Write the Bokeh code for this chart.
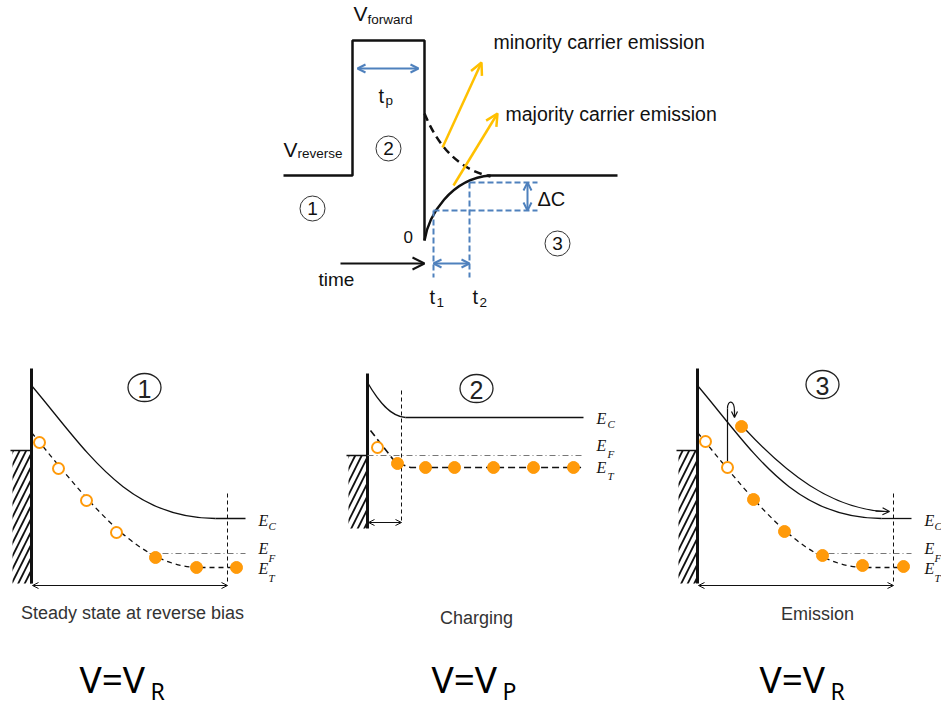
from bokeh.plotting import figure
from bokeh.models import Range1d, Arrow, OpenHead
from bokeh.core.properties import value
from bokeh.embed import file_html
from bokeh.resources import INLINE

W, H = 941, 706

BLUE = "#4F81BD"
GOLD = "#FFC000"
ORANGE = "#FF9A0A"
INK = "#111111"

# ---------------- DLTS timing sketch (canvas units, y grows downward) ----------------
pulse_x = [283, 352, 352, 424, 424]
pulse_y = [175, 175, 40, 40, 240]
settled_x = [487, 617]
settled_y = [175, 175]
# cubic Bezier control polygons: start, control 0, control 1, end
recovery = [(424, 240), (428, 215), (450, 178), (490, 175)]
overshoot = [(424, 113), (436, 142), (455, 168), (490, 176)]

# blue construction lines for the rate window
guide_xs = [[433, 537], [469, 537], [433, 433], [469, 469]]
guide_ys = [[210, 210], [182, 182], [210, 277], [182, 277]]

# double arrows: (x0, y0, x1, y1)
blue_spans = [(357, 68, 418, 68), (433, 263, 469, 263), (527, 182, 527, 210)]
emission_arrows = [(442, 147, 481, 62), (453, 185, 497, 113)]
time_arrow = (340, 263, 424, 263)

# circled step numbers of the timing sketch
step_x = [312, 388, 557]
step_y = [208, 148, 243]
step_labels = ["1", "2", "3"]

# ---------------- band diagrams ----------------
axis_x = [31, 367, 697]
axis_top = [368, 373, 368]
axis_bottom = [583, 528, 583]
metal_top = [450, 455, 450]

# bent-band panels (1 and 3) share the same band shapes, given relative to the interface
ec_bent = [(0, 385), (55, 450), (95, 518), (184, 518)]
et_bent = [(0, 432), (64, 510), (109, 567), (169, 567)]
band_end = 214
ec_flat_y = 518
et_flat_y = 567
ef_y = 553
ef_start = 118
depletion_edge = 196

# trap occupancy: open = empty trap, filled = occupied trap
p1_open_x = [39, 58, 86, 116]
p1_open_y = [442, 468, 500, 532]
p1_fill_x = [155, 196, 236]
p1_fill_y = [557, 567, 567]

p2_open_x = [377]
p2_open_y = [447]
p2_fill_x = [397, 425, 454, 493, 533, 573]
p2_fill_y = [463, 467, 467, 467, 467, 467]

p3_open_x = [705, 727]
p3_open_y = [441, 467]
p3_fill_x = [741, 753, 784, 822, 862, 903]
p3_fill_y = [426, 499, 531, 555, 565, 566]

# charging panel (flat bands)
p2_ec = [(367, 382), (378, 401), (390, 416), (405, 417)]
p2_ec_flat_y = 417
p2_ef_y = 455
p2_et_x = [370, 395, 410, 583]
p2_et_y = [430, 462, 467, 467]
p2_end = 583
p2_edge = 401

panel_titles = ["Steady state at reverse bias", "Charging", "Emission"]
title_x = [132, 476, 817]
title_y = [612, 617, 613]
circle_x = [144, 476, 822]
circle_y = [387, 388, 384]
bias_main = ["V=V", "V=V", "V=V"]
bias_sub = ["R", "P", "R"]
bias_x = [79, 431, 759]
bias_sub_x = [150, 502, 830]

p = figure(width=W, height=H, x_range=Range1d(0, W), y_range=Range1d(H, 0),
           output_backend="svg", toolbar_location=None, min_border=0,
           x_axis_location=None, y_axis_location=None)
p.grid.visible = False
p.outline_line_color = None
p.background_fill_color = "white"


def bez(pts, dx=0, **kw):
    (a, b), (c, d), (e, f), (g, h) = pts
    p.bezier(x0=[a + dx], y0=[b], cx0=[c + dx], cy0=[d], cx1=[e + dx], cy1=[f],
             x1=[g + dx], y1=[h], **kw)


def arrow(x0, y0, x1, y1, color, width, size, both=False):
    head = dict(size=size, line_color=color, line_width=width)
    p.add_layout(Arrow(x_start=x0, y_start=y0, x_end=x1, y_end=y1,
                       line_color=color, line_width=width,
                       end=OpenHead(**head),
                       start=OpenHead(**head) if both else None))


def label(x, y, txt, size, font="Liberation Sans", style="normal", align="left",
          color=INK):
    # y is the visual middle of the text
    p.text(x=[x], y=[y], text=[txt], text_font=value(font), text_font_size=f"{size}px",
           text_font_style=style, text_align=align, text_baseline="middle", text_color=color)


# ---- timing sketch ----
p.line(pulse_x, pulse_y, line_color=INK, line_width=2.5)
p.line(settled_x, settled_y, line_color=INK, line_width=2.5)
bez(recovery, line_color=INK, line_width=2.5)
bez(overshoot, line_color=INK, line_width=2.5, line_dash="8 5")
p.multi_line(guide_xs, guide_ys, line_color=BLUE, line_width=2, line_dash="6 3")
for x0, y0, x1, y1 in blue_spans:
    arrow(x0, y0, x1, y1, BLUE, 2, 8, both=True)
for x0, y0, x1, y1 in emission_arrows:
    arrow(x0, y0, x1, y1, GOLD, 2.5, 12)
arrow(*time_arrow, INK, 2, 12)

p.ellipse(x=step_x, y=step_y, width=25, height=25, fill_color=None,
          line_color="#333333", line_width=1)
p.text(x=step_x, y=step_y, text=step_labels, text_font=value("Liberation Sans"),
       text_font_size="19px", text_align="center", text_baseline="middle", text_color=INK)

label(353, 13, "V", 21)
label(367, 19, "forward", 13.5)
label(283, 149, "V", 21)
label(297, 153, "reverse", 13.5)
label(378, 95, "t", 20)
label(385, 100, "p", 13.5)
label(403, 236, "0", 17)
label(318, 279, "time", 19)
label(429, 296, "t", 20)
label(436, 302, "1", 13.5)
label(472, 296, "t", 20)
label(479, 302, "2", 13.5)
label(537, 198, "\u0394C", 20)
label(493, 41, "minority carrier emission", 19.5)
label(505, 113, "majority carrier emission", 19.5)

# ---- band diagrams ----
for i in range(3):
    ax = axis_x[i]
    # metal contact
    p.quad(left=[ax - 19], right=[ax], top=[metal_top[i]], bottom=[axis_bottom[i]],
           fill_color=None, line_color=None, hatch_pattern="/", hatch_color=INK,
           hatch_scale=13, hatch_weight=1.8)
    p.line([ax - 21, ax], [metal_top[i], metal_top[i]], line_color=INK, line_width=1.5)
    p.line([ax, ax], [axis_top[i], axis_bottom[i]], line_color=INK, line_width=3)
    p.ellipse(x=[circle_x[i]], y=[circle_y[i]], width=33, height=28, fill_color=None,
              line_color="#222222", line_width=1.3)
    p.text(x=[circle_x[i]], y=[circle_y[i] + 1], text=[str(i + 1)],
           text_font=value("Liberation Sans"), text_font_size="25px",
           text_align="center", text_baseline="middle", text_color="#222222")
    label(title_x[i], title_y[i], panel_titles[i], 18, align="center", color="#333333")
    label(bias_x[i], 678, bias_main[i], 37, font="Noto Sans", color="#000000")
    label(bias_sub_x[i], 690, bias_sub[i], 23, font="Noto Sans", color="#000000")

for ax in (axis_x[0], axis_x[2]):
    bez(ec_bent, dx=ax, line_color=INK, line_width=1.3)
    p.line([ax + ec_bent[-1][0], ax + band_end], [ec_flat_y, ec_flat_y],
           line_color=INK, line_width=1.3)
    bez(et_bent, dx=ax, line_color=INK, line_width=1.3, line_dash="5 4")
    p.line([ax + et_bent[-1][0], ax + band_end], [et_flat_y, et_flat_y],
           line_color=INK, line_width=1.3, line_dash="5 4")
    p.line([ax + ef_start, ax + band_end], [ef_y, ef_y], line_color="#777777",
           line_width=1, line_dash="6 3 1 3")
    p.line([ax + depletion_edge] * 2, [493, 583], line_color=INK, line_width=1,
           line_dash="4 3")
    arrow(ax + 1, 585, ax + depletion_edge, 585, INK, 1, 6, both=True)
    for lab, yy, sy in (("C", 519.5, 525), ("F", 547.5, 557.5), ("T", 567.5, 577.5)):
        label(ax + 227, yy, "E", 16, font="Liberation Serif", style="italic")
        label(ax + 237, sy, lab, 11, font="Liberation Serif", style="italic")

# charging panel
bez(p2_ec, line_color=INK, line_width=1.3)
p.line([p2_ec[-1][0], p2_end], [p2_ec_flat_y] * 2, line_color=INK, line_width=1.3)
p.line([axis_x[1], p2_end], [p2_ef_y] * 2, line_color="#777777", line_width=1,
       line_dash="6 3 1 3")
p.line(p2_et_x, p2_et_y, line_color=INK, line_width=1.6, line_dash="7 4")
p.line([p2_edge] * 2, [390, 522], line_color=INK, line_width=1, line_dash="4 3")
arrow(axis_x[1] + 1, 522, p2_edge, 522, INK, 1, 6, both=True)
for lab, yy, sy in (("C", 418, 423.5), ("F", 444.5, 453.5), ("T", 466.5, 475)):
    label(596, yy, "E", 16, font="Liberation Serif", style="italic")
    label(607, sy, lab, 11, font="Liberation Serif", style="italic")

# emission panel: electron escaping over the barrier and drifting away
p.line([727, 727], [461, 408], line_color=INK, line_width=1.2)
bez([(727, 408), (727, 399), (734, 399), (734, 411)], line_color=INK, line_width=1.2)
arrow(734, 410, 734, 417, INK, 1.2, 6)
bez([(745, 429), (785, 472), (830, 508), (884, 511)], line_color=INK, line_width=1.2)
arrow(875, 510.6, 889, 511, INK, 1.2, 7)

# trap occupancy markers
for ox, oy in ((p1_open_x, p1_open_y), (p2_open_x, p2_open_y), (p3_open_x, p3_open_y)):
    p.scatter(ox, oy, size=11, marker="circle", fill_color="white", line_color=ORANGE,
              line_width=2)
for fx, fy in ((p1_fill_x, p1_fill_y), (p2_fill_x, p2_fill_y), (p3_fill_x, p3_fill_y)):
    p.scatter(fx, fy, size=12, marker="circle", fill_color=ORANGE, line_color=ORANGE)

open("out.html", "w").write(file_html(p, INLINE))
